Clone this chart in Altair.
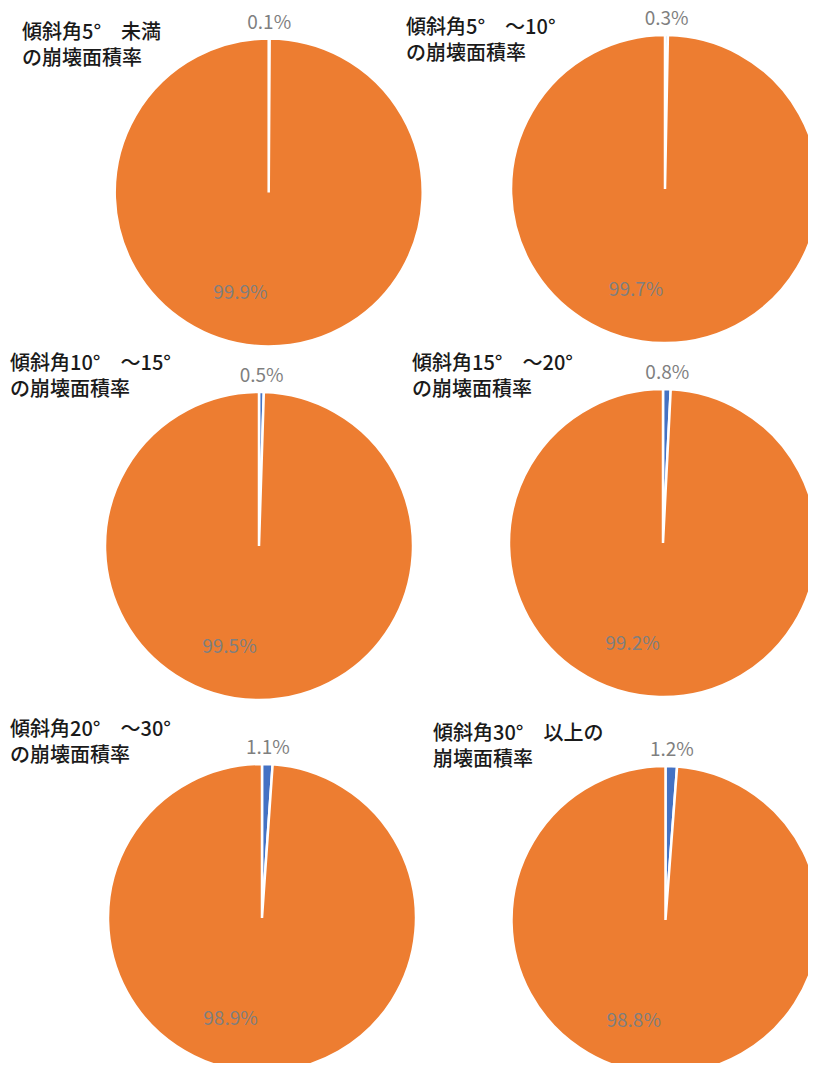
import altair as alt
import pandas as pd

# ---- data ----
titles = [
    "傾斜角5°　未満\nの崩壊面積率",
    "傾斜角5°　～10°\nの崩壊面積率",
    "傾斜角10°　～15°\nの崩壊面積率",
    "傾斜角15°　～20°\nの崩壊面積率",
    "傾斜角20°　～30°\nの崩壊面積率",
    "傾斜角30°　以上の\n崩壊面積率",
]
collapse = [0.1, 0.3, 0.5, 0.8, 1.1, 1.2]
other = [99.9, 99.7, 99.5, 99.2, 98.9, 98.8]
categories = ["崩壊面積", "非崩壊面積"]
colors = ["#4472C4", "#ED7D31"]

rows = []
for i in range(len(titles)):
    rows.append({"pie": i, "cat": categories[0], "value": collapse[i], "ord": 0,
                 "label": f"{collapse[i]:.1f}%"})
    rows.append({"pie": i, "cat": categories[1], "value": other[i], "ord": 1,
                 "label": f"{other[i]:.1f}%"})
df = pd.DataFrame(rows)

# layout (pixels)
centers = [(260.7, 184.5), (657, 181), (251, 538), (655, 535), (254, 910), (657.5, 912)]
title_pos = [(14, 15), (398, 10), (2, 346), (404, 346), (2, 712), (425, 716)]

FONT = "Noto Sans CJK JP"
theta = alt.Theta("value:Q", stack=True, scale=alt.Scale(domain=[0, 100]))
order = alt.Order("ord:Q", sort="ascending")

layers = []
for i, (cx, cy) in enumerate(centers):
    b = alt.Chart(df).transform_filter(alt.datum.pie == i)
    arc = b.mark_arc(outerRadius=154, stroke="white", strokeWidth=2.5).encode(
        theta=theta,
        order=order,
        color=alt.Color("cat:N", scale=alt.Scale(domain=categories, range=colors), legend=None),
        x=alt.value(cx),
        y=alt.value(cy),
    )
    outer = b.mark_text(radius=170, fontSize=19, color="#7f7f7f", font=FONT).encode(
        theta=theta,
        order=order,
        text=alt.condition(alt.datum.ord == 0, "label:N", alt.value("")),
        x=alt.value(cx),
        y=alt.value(cy),
    )
    inner = b.mark_text(radius=101, dx=-28, fontSize=19, color="#7f7f7f", font=FONT).encode(
        theta=theta,
        order=order,
        text=alt.condition(alt.datum.ord == 1, "label:N", alt.value("")),
        x=alt.value(cx),
        y=alt.value(cy),
    )
    tx, ty = title_pos[i]
    title = alt.Chart(pd.DataFrame({"t": [titles[i]]})).mark_text(
        align="left", baseline="top", fontSize=20, lineHeight=26, lineBreak="\n",
        font=FONT, fontWeight=500, color="#1a1a1a",
    ).encode(text="t:N", x=alt.value(tx), y=alt.value(ty))
    layers += [arc, outer, inner, title]

chart = alt.layer(*layers).properties(
    width=800, height=1055, autosize="none", padding=0
).configure_view(stroke=None)

chart.save("out.html", embed_options={"renderer": "svg", "actions": False})
